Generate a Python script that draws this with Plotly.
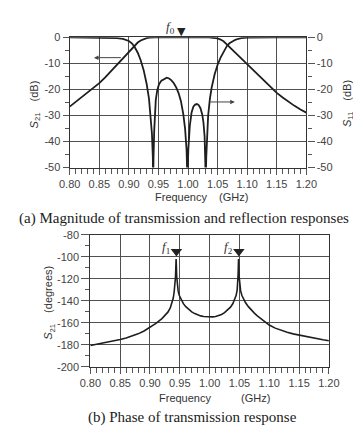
import plotly.graph_objects as go

# ---------------- data: (a) magnitude ----------------
s21_freq = [0.800, 0.810, 0.820, 0.830, 0.840, 0.850, 0.860, 0.870, 0.880, 0.890,
            0.900, 0.905, 0.910, 0.915, 0.920, 0.925, 0.930, 0.935, 0.940, 0.945,
            1.035, 1.040, 1.045, 1.050, 1.055, 1.060, 1.065, 1.070, 1.075, 1.080,
            1.090, 1.100, 1.110, 1.120, 1.130, 1.140, 1.150, 1.160, 1.170, 1.180,
            1.190, 1.200]
s21_db = [-26.6, -24.8, -23.0, -21.2, -19.4, -17.6, -15.4, -13.0, -10.6, -8.1,
          -5.6, -4.3, -3.1, -2.0, -1.2, -0.65, -0.3, -0.12, -0.03, 0.0,
          0.0, -0.08, -0.2, -0.4, -0.85, -1.5, -2.6, -3.7, -4.8, -5.9,
          -8.1, -10.2, -12.7, -15.0, -17.2, -19.3, -21.3, -23.1, -24.8, -26.3,
          -27.7, -28.9]

s11_freq = [0.800, 0.850, 0.870, 0.880, 0.890, 0.895, 0.900, 0.905, 0.910, 0.915,
            0.920, 0.925, 0.930, 0.934, 0.937, 0.939, 0.9405, 0.941, 0.9417, 0.9428,
            0.944, 0.9455, 0.948, 0.951, 0.955, 0.960, 0.964, 0.968, 0.972, 0.976,
            0.980, 0.984, 0.988, 0.992, 0.995, 0.9975, 0.999, 1.0005, 1.003, 1.006,
            1.009, 1.012, 1.015, 1.018, 1.021, 1.024, 1.026, 1.028, 1.0295, 1.030,
            1.0308, 1.032, 1.034, 1.037, 1.040, 1.045, 1.050, 1.055, 1.060, 1.066,
            1.070, 1.075, 1.080, 1.085, 1.090, 1.100, 1.120, 1.150, 1.200]
s11_db = [0.0, -0.05, -0.15, -0.3, -0.6, -0.9, -1.4, -2.3, -3.8, -5.9,
          -8.8, -12.6, -17.8, -23.5, -30.0, -37.0, -46.0, -55.0, -46.0, -36.0,
          -29.0, -24.0, -20.3, -18.0, -16.6, -15.8, -15.5, -15.8, -16.5, -17.6,
          -19.2, -21.4, -24.5, -29.5, -35.0, -43.0, -55.0, -43.0, -34.0, -28.8,
          -26.6, -25.8, -25.6, -26.0, -27.2, -29.6, -32.5, -38.0, -46.0, -55.0,
          -46.0, -37.0, -30.0, -23.5, -19.2, -14.2, -10.5, -7.8, -5.7, -3.2,
          -2.3, -1.5, -0.95, -0.55, -0.3, -0.12, -0.03, 0.0, 0.0]

# ---------------- data: (b) phase ----------------
ph_freq = [0.800, 0.820, 0.840, 0.850, 0.860, 0.870, 0.880, 0.890, 0.900, 0.910,
           0.920, 0.925, 0.930, 0.934, 0.937, 0.939, 0.9405, 0.9418, 0.9428, 0.9433,
           0.9438, 0.9443, 0.9448, 0.9458, 0.9472, 0.949, 0.952, 0.956, 0.960, 0.965,
           0.970, 0.975, 0.980, 0.985, 0.990, 0.995, 1.000, 1.005, 1.010, 1.015,
           1.020, 1.025, 1.030, 1.035, 1.039, 1.042, 1.0445, 1.0462, 1.0472, 1.0478,
           1.0481, 1.0485, 1.049, 1.0495, 1.0505, 1.052, 1.054, 1.057, 1.060, 1.065,
           1.070, 1.075, 1.080, 1.090, 1.100, 1.110, 1.120, 1.130, 1.140, 1.150,
           1.160, 1.170, 1.180, 1.190, 1.200]
ph_deg = [-180.5, -178.6, -176.5, -175.2, -173.8, -172.1, -170.0, -167.4, -164.3, -160.5,
          -156.2, -153.6, -150.3, -146.5, -142.0, -137.5, -132.0, -126.0, -118.0, -110.0,
          -102.0, -110.0, -118.0, -126.0, -131.0, -135.0, -139.0, -142.6, -145.3, -148.0,
          -150.1, -151.6, -152.8, -153.7, -154.3, -154.6, -154.7, -154.6, -154.2, -153.5,
          -152.4, -150.8, -148.7, -145.8, -142.5, -139.0, -135.0, -130.0, -124.0, -116.0,
          -110.0, -102.0, -110.0, -118.0, -126.0, -131.0, -135.0, -138.8, -141.6, -145.3,
          -148.5, -151.2, -153.6, -158.2, -162.0, -164.8, -166.9, -168.6, -170.0, -171.2,
          -172.3, -173.3, -174.2, -175.4, -176.2]

# ---------------- ticks / markers ----------------
freq_ticks = [0.80, 0.85, 0.90, 0.95, 1.00, 1.05, 1.10, 1.15, 1.20]
freq_labels = ["0.80", "0.85", "0.90", "0.95", "1.00", "1.05", "1.10", "1.15", "1.20"]
db_ticks = [0, -10, -20, -30, -40, -50]
db_labels = ["0", "-10", "-20", "-30", "-40", "-50"]
deg_ticks = [-80, -100, -120, -140, -160, -180, -200]
deg_labels = ["-80", "-100", "-120", "-140", "-160", "-180", "-200"]
f0_freq = 0.989
f12_freq = [0.9443, 1.049]
f12_level = [-95.3, -95.3]

INK = "#1e1e1e"
GRID = "#505050"
TICKC = "#444444"
SANS = "Liberation Sans, Arial, sans-serif"
SERIF = "Liberation Serif, Times New Roman, serif"
W, H = 361, 432


def px_x(p):
    return p / W


def px_y(p):
    return 1 - p / H


fig = go.Figure()
fig.add_trace(go.Scatter(x=s21_freq, y=s21_db, mode="lines",
                         line=dict(color=INK, width=1.8), xaxis="x", yaxis="y",
                         showlegend=False, hoverinfo="skip"))
fig.add_trace(go.Scatter(x=s11_freq, y=s11_db, mode="lines",
                         line=dict(color=INK, width=1.8), xaxis="x", yaxis="y2",
                         showlegend=False, hoverinfo="skip"))
fig.add_trace(go.Scatter(x=ph_freq, y=ph_deg, mode="lines",
                         line=dict(color=INK, width=1.6), xaxis="x2", yaxis="y3",
                         showlegend=False, hoverinfo="skip"))
fig.add_trace(go.Scatter(x=f12_freq, y=f12_level, mode="markers",
                         marker=dict(symbol="triangle-down", size=10, color="#222"),
                         cliponaxis=False, xaxis="x2", yaxis="y3",
                         showlegend=False, hoverinfo="skip"))

tickfont = dict(family=SANS, size=11, color=TICKC)
common_x = dict(range=[0.80, 1.20], tickvals=freq_ticks, ticktext=freq_labels,
                showgrid=True, gridcolor=GRID, gridwidth=1.3,
                showline=True, linecolor="#333", linewidth=1.3, mirror=True,
                ticks="outside", ticklen=6, tickwidth=1, tickcolor="#555",
                minor=dict(dtick=0.01, tick0=0.8, ticks="outside", ticklen=5,
                           tickcolor="#555", showgrid=False),
                zeroline=False, tickfont=tickfont, fixedrange=True)

fig.update_layout(
    width=W, height=H, margin=dict(l=0, r=0, t=0, b=0),
    paper_bgcolor="white", plot_bgcolor="white",
    xaxis=dict(domain=[54 / W, 306 / W], anchor="y", **common_x),
    yaxis=dict(domain=[1 - 158 / H, 1 - 24 / H], anchor="x", range=[-50, 0],
               tickvals=db_ticks, ticktext=db_labels,
               showgrid=True, gridcolor=GRID, gridwidth=1.3,
               showline=True, linecolor="#333", linewidth=1.3,
               ticks="outside", ticklen=6, tickcolor="#555",
               minor=dict(dtick=5, ticks="outside", ticklen=4, tickcolor="#555",
                          showgrid=False),
               zeroline=False, tickfont=tickfont, fixedrange=True),
    yaxis2=dict(overlaying="y", side="right", anchor="x", range=[-50, 0],
                tickvals=db_ticks, ticktext=db_labels, showgrid=False,
                showline=True, linecolor="#333", linewidth=1.3,
                ticks="outside", ticklen=7, tickcolor="#555",
                minor=dict(dtick=5, ticks="outside", ticklen=4, tickcolor="#555",
                           showgrid=False),
                zeroline=False, tickfont=tickfont, fixedrange=True),
    xaxis2=dict(domain=[76 / W, 330 / W], anchor="y3", **common_x),
    yaxis3=dict(domain=[1 - 363 / H, 1 - 227 / H], anchor="x2", range=[-200, -80],
                tickvals=deg_ticks, ticktext=deg_labels,
                showgrid=True, gridcolor=GRID, gridwidth=1.3,
                showline=True, linecolor="#333", linewidth=1.3, mirror=True,
                ticks="outside", ticklen=8, tickcolor="#555",
                minor=dict(dtick=10, ticks="outside", ticklen=4, tickcolor="#555",
                           showgrid=False),
                zeroline=False, tickfont=tickfont, fixedrange=True),
)

ann = []
lab = dict(family=SANS, size=11, color="#333")
# axis titles
ann.append(dict(text="Frequency", x=px_x(172), y=px_y(188), font=lab))
ann.append(dict(text="(GHz)", x=px_x(228), y=px_y(188), font=lab))
ann.append(dict(text="Frequency", x=px_x(177), y=px_y(395), font=lab))
ann.append(dict(text="(GHz)", x=px_x(252), y=px_y(395), font=lab))
ann.append(dict(text="<i>S</i><sub>21</sub>\u2003(dB)", x=px_x(17), y=px_y(93),
                textangle=-90, font=lab))
ann.append(dict(text="<i>S</i><sub>11</sub>\u2003(dB)", x=px_x(351), y=px_y(92),
                textangle=-90, font=lab))
ann.append(dict(text="<i>S</i><sub>21</sub>\u2003(degrees)", x=px_x(32), y=px_y(297),
                textangle=-90, font=lab))
# captions
cap = dict(family=SERIF, size=15, color="#222")
ann.append(dict(text="(a) Magnitude of transmission and reflection responses",
                x=px_x(176), y=px_y(210), font=cap))
ann.append(dict(text="(b) Phase of transmission response",
                x=px_x(185), y=px_y(415), font=cap))
# frequency markers labels
mk = dict(family=SERIF, size=13, color="#333")
ann.append(dict(text="<i>f</i><sub>0</sub>", x=px_x(161), y=px_y(14), font=mk))
ann.append(dict(text="<i>f</i><sub>1</sub>", x=px_x(157), y=px_y(240), font=mk))
ann.append(dict(text="<i>f</i><sub>2</sub>", x=px_x(223), y=px_y(240), font=mk))
for a in ann:
    a.update(xref="paper", yref="paper", showarrow=False,
             xanchor="center", yanchor="middle")

# f0 marker (above the plot frame)
ann.append(dict(text="\u25BC", x=f0_freq, xref="x", y=px_y(18), yref="paper",
                showarrow=False, xanchor="center", yanchor="middle",
                font=dict(family="DejaVu Sans", size=11, color="#222")))

# direction arrows
ann.append(dict(x=0.841, y=-7.8, ax=0.889, ay=-7.8, xref="x", yref="y",
                axref="x", ayref="y", showarrow=True, arrowhead=2, arrowsize=0.9,
                arrowwidth=1, arrowcolor="#444", text=""))
ann.append(dict(x=1.079, y=-24.8, ax=1.035, ay=-24.8, xref="x", yref="y",
                axref="x", ayref="y", showarrow=True, arrowhead=2, arrowsize=0.9,
                arrowwidth=1, arrowcolor="#444", text=""))
fig.update_layout(annotations=ann)

fig.write_html("out.html")
